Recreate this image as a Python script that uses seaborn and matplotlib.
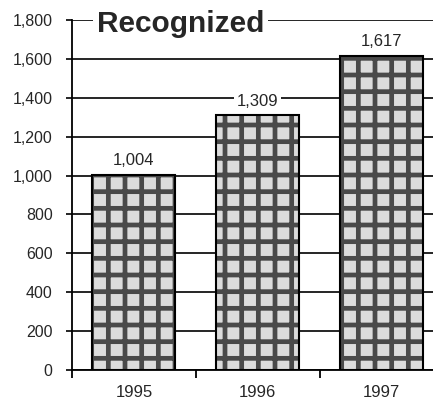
import matplotlib
matplotlib.use("Agg")
import matplotlib.pyplot as plt
import seaborn as sns
import pandas as pd

years = ["1995", "1996", "1997"]
recognized = [1004, 1309, 1617]
y_ticks = [0, 200, 400, 600, 800, 1000, 1200, 1400, 1600, 1800]
title_text = "Recognized"

sns.set_theme(style="white")
plt.rcParams["font.family"] = ["Liberation Sans", "DejaVu Sans"]
plt.rcParams["hatch.linewidth"] = 3.4
plt.rcParams["hatch.color"] = "#4a4a4a"

df = pd.DataFrame({"year": years, "count": recognized})

fig = plt.figure(figsize=(4.33, 4.01), dpi=100)
ax = fig.add_axes([72 / 433, 1 - 370 / 401, 1 - 72 / 433, 350 / 401])

# textured fill
sns.barplot(data=df, x="year", y="count", ax=ax, color="#dcdcdc",
            width=0.67, linewidth=0, edgecolor="#4a4a4a", saturation=1,
            zorder=2)
for p in ax.patches:
    p.set_hatch("+")
# black outlines on top
sns.barplot(data=df, x="year", y="count", ax=ax, color="black", fill=False,
            width=0.67, linewidth=1.5, zorder=3)

ax.set_yticks(y_ticks)
ax.set_yticklabels([f"{v:,}" for v in y_ticks], fontsize=11.5)
ax.yaxis.grid(True, color="black", linewidth=1.2, zorder=1)
ax.set_axisbelow(True)

# category boundary ticks below the axis, labels at category centres
ax.set_xticks([-0.5, 0.5, 1.5, 2.5])
ax.set_xticklabels([])
ax.set_xticks(range(len(years)), minor=True)
ax.set_xticklabels(years, minor=True, fontsize=12)
ax.tick_params(axis="x", which="major", length=6, width=1.3, color="black",
               direction="out", bottom=True)
ax.tick_params(axis="x", which="minor", length=0, pad=11)
ax.tick_params(axis="y", length=4, width=1.2, color="black", left=True,
               pad=10)
ax.set_xlabel("")
ax.set_ylabel("")
ax.set_ylim(0, 1800)
ax.set_xlim(-0.5, 2.415)

for s in ["top", "right"]:
    ax.spines[s].set_visible(False)
for s in ["left", "bottom"]:
    ax.spines[s].set_color("black")
    ax.spines[s].set_linewidth(1.3)

# value labels above each bar
for i, v in enumerate(recognized):
    ax.annotate(f"{v:,}", (i, v), xytext=(0, 5), textcoords="offset points",
                ha="center", va="bottom", fontsize=12, zorder=5,
                bbox=dict(boxstyle="square,pad=0.15", fc="white", ec="none"))

# heading sitting on the top grid line
ax.annotate(title_text, (0.069, 1800), xycoords=("axes fraction", "data"),
            xytext=(0, -8.6), textcoords="offset points", ha="left",
            va="baseline", fontsize=21.5, fontweight="bold", zorder=6,
            annotation_clip=False,
            bbox=dict(boxstyle="square,pad=0.12", fc="white", ec="none"))

fig.savefig("out.png", dpi=100)
